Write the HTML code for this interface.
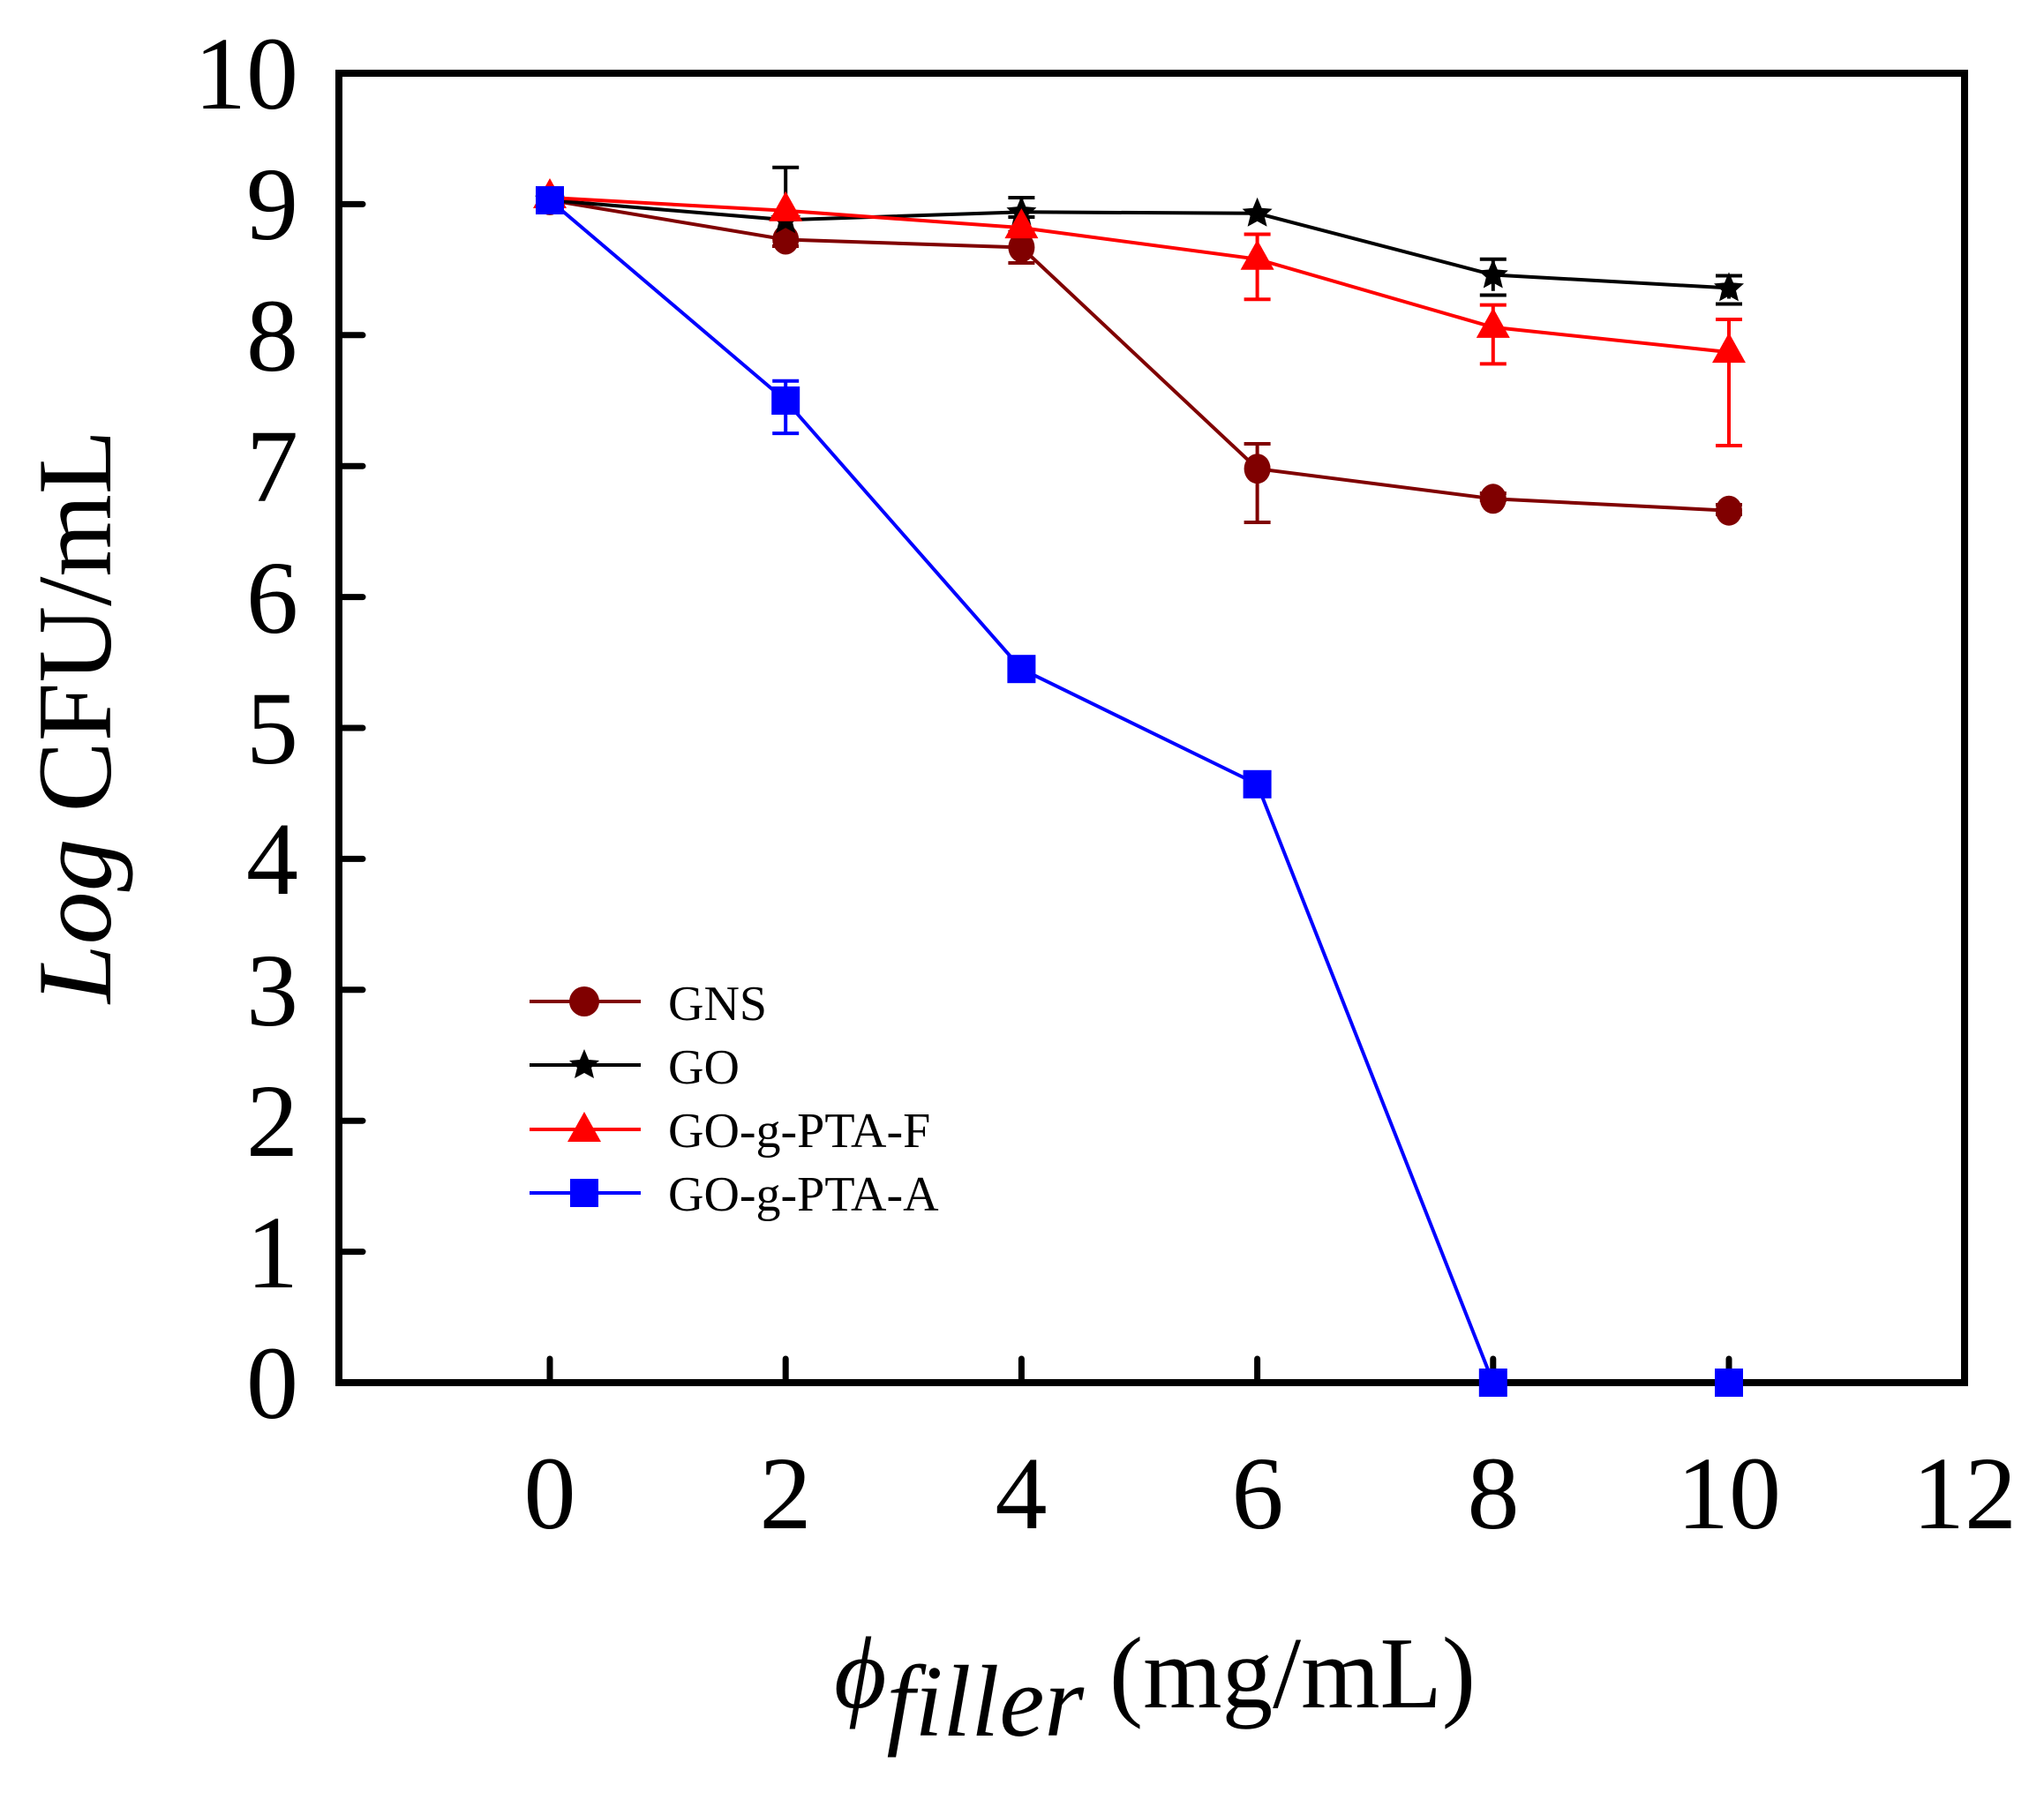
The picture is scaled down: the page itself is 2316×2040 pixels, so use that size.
<!DOCTYPE html>
<html><head><meta charset="utf-8"><style>html,body{margin:0;padding:0;background:#fff}svg{display:block}svg text{font-family:"Liberation Serif",serif}</style></head>
<body>
<svg width="2316" height="2040" viewBox="0 0 2316 2040" xmlns="http://www.w3.org/2000/svg" font-family="'Liberation Serif', serif">
<rect width="2316" height="2040" fill="#fff"/>
<g stroke="#000" stroke-width="7" stroke-linecap="round">
<line x1="384" y1="231.4" x2="411" y2="231.4"/><line x1="384" y1="379.8" x2="411" y2="379.8"/>
<line x1="384" y1="528.2" x2="411" y2="528.2"/><line x1="384" y1="676.6" x2="411" y2="676.6"/>
<line x1="384" y1="825" x2="411" y2="825"/><line x1="384" y1="973.4" x2="411" y2="973.4"/>
<line x1="384" y1="1121.8" x2="411" y2="1121.8"/><line x1="384" y1="1270.2" x2="411" y2="1270.2"/>
<line x1="384" y1="1418.6" x2="411" y2="1418.6"/>
<line x1="623" y1="1567" x2="623" y2="1540"/><line x1="890.2" y1="1567" x2="890.2" y2="1540"/>
<line x1="1157.4" y1="1567" x2="1157.4" y2="1540"/><line x1="1424.6" y1="1567" x2="1424.6" y2="1540"/>
<line x1="1691.8" y1="1567" x2="1691.8" y2="1540"/><line x1="1959" y1="1567" x2="1959" y2="1540"/>
</g>
<g font-size="118" text-anchor="end">
<text x="338" y="123">10</text><text x="338" y="271">9</text><text x="338" y="420">8</text>
<text x="338" y="568">7</text><text x="338" y="717">6</text><text x="338" y="865">5</text>
<text x="338" y="1013">4</text><text x="338" y="1162">3</text><text x="338" y="1310">2</text>
<text x="338" y="1459">1</text><text x="338" y="1607">0</text>
</g>
<g font-size="118" text-anchor="middle">
<text x="623" y="1732">0</text><text x="890" y="1732">2</text><text x="1157" y="1732">4</text>
<text x="1425" y="1732">6</text><text x="1692" y="1732">8</text><text x="1959" y="1732">10</text><text x="2226" y="1732">12</text>
</g>
<text transform="translate(125,812) rotate(-90)" text-anchor="middle" font-size="120"><tspan font-style="italic">Log</tspan> CFU/mL</text>
<text x="945" y="1935" font-size="115"><tspan font-style="italic">ϕ</tspan><tspan font-style="italic" dy="32">filler</tspan><tspan dy="-32"> (mg/mL)</tspan></text>

<g stroke-width="4" fill="none">
<g stroke="#800000">
<path d="M890.2 265v14 M1157.4 262.6v35.4 M1424.6 503v89 M1409.6 503h30 M1409.6 592h30 M1142.4 298h30 M1142.4 262.6h30 M875 279h30 M1676.8 559h30 M1676.8 567h30 M1944 572h30 M1944 583h30"/>
</g>
<g stroke="#000">
<path d="M890.2 189.8v59 M875.2 189.8h30 M1157.4 224v16 M1142.4 224h30 M1142.4 246h30 M1691.8 293.7v36 M1676.8 293.7h30 M1676.8 334.5h30 M1959 314.5v24 M1944 312.5h30 M1944 344.5h30"/>
</g>
<g stroke="#f00">
<path d="M1424.6 265.5v72.7 M1409.6 265.5h30 M1409.6 339.2h30 M1691.8 345.6v66.8 M1676.8 345.6h30 M1676.8 412.4h30 M1959 360.5v145.5 M1944 362h30 M1944 505h30"/>
</g>
<g stroke="#00f">
<path d="M890.2 431.7v59.4 M875.2 431.7h30 M875.2 491.1h30 M608 218h30 M608 236h30 M1142.4 752h30 M1142.4 764h30 M1409.6 882h30 M1409.6 895h30"/>
</g>
</g>

<g fill="none" stroke-width="4">
<polyline stroke="#800000" points="623,226.9 890.2,271.5 1157.4,280.4 1424.6,531.2 1691.8,565.3 1959,578.7"/>
<polyline stroke="#000" points="623,226.9 890.2,249.2 1157.4,240.3 1424.6,241.8 1691.8,311.5 1959,326.4"/>
<polyline stroke="#f00" points="623,224 890.2,238.8 1157.4,258.1 1424.6,293.7 1691.8,370.9 1959,399.1"/>
<polyline stroke="#00f" points="623,226.9 890.2,454 1157.4,758.2 1424.6,888.8 1691.8,1567 1959,1567"/>
</g>

<rect x="384" y="83" width="1842" height="1484" fill="none" stroke="#000" stroke-width="8"/>

<defs>
<path id="star" d="M0,-18 L5,-6 L17,-5 L8,3 L11,15 L0,9 L-11,15 L-8,3 L-17,-5 L-5,-6 Z"/>
<path id="tri" d="M0,-22 L19,12 L-19,12 Z"/>
</defs>
<g fill="#800000">
<ellipse cx="623" cy="226.9" rx="15" ry="17"/><ellipse cx="890.2" cy="271.5" rx="15" ry="17"/><ellipse cx="1157.4" cy="280.4" rx="15" ry="17"/>
<ellipse cx="1424.6" cy="531.2" rx="15" ry="17"/><ellipse cx="1691.8" cy="565.3" rx="15" ry="17"/><ellipse cx="1959" cy="578.7" rx="15" ry="17"/>
</g>
<g fill="#000">
<use href="#star" x="623" y="226.9"/><use href="#star" x="890.2" y="249.2"/><use href="#star" x="1157.4" y="240.3"/>
<use href="#star" x="1424.6" y="241.8"/><use href="#star" x="1691.8" y="311.5"/><use href="#star" x="1959" y="326.4"/>
</g>
<g fill="#f00">
<use href="#tri" x="623" y="224"/><use href="#tri" x="890.2" y="238.8"/><use href="#tri" x="1157.4" y="258.1"/>
<use href="#tri" x="1424.6" y="293.7"/><use href="#tri" x="1691.8" y="370.9"/><use href="#tri" x="1959" y="399.1"/>
</g>
<g fill="#00f">
<rect x="607" y="211" width="32" height="32"/><rect x="874.2" y="438" width="32" height="32"/>
<rect x="1141.4" y="742.2" width="32" height="32"/><rect x="1408.6" y="872.8" width="32" height="32"/>
<rect x="1675.8" y="1551" width="32" height="32"/><rect x="1943" y="1551" width="32" height="32"/>
</g>

<g stroke-width="4">
<line x1="600" y1="1135" x2="726" y2="1135" stroke="#800000"/>
<line x1="600" y1="1207" x2="726" y2="1207" stroke="#000"/>
<line x1="600" y1="1280" x2="726" y2="1280" stroke="#f00"/>
<line x1="600" y1="1352" x2="726" y2="1352" stroke="#00f"/>
</g>
<circle cx="662" cy="1135" r="17" fill="#800000"/>
<use href="#star" x="662" y="1207" fill="#000"/>
<use href="#tri" x="662" y="1282" fill="#f00"/>
<rect x="646" y="1336" width="32" height="32" fill="#00f"/>
<g font-size="56">
<text x="757" y="1156">GNS</text><text x="757" y="1228">GO</text>
<text x="757" y="1300">GO-g-PTA-F</text><text x="757" y="1372">GO-g-PTA-A</text>
</g>
</svg>
</body></html>
